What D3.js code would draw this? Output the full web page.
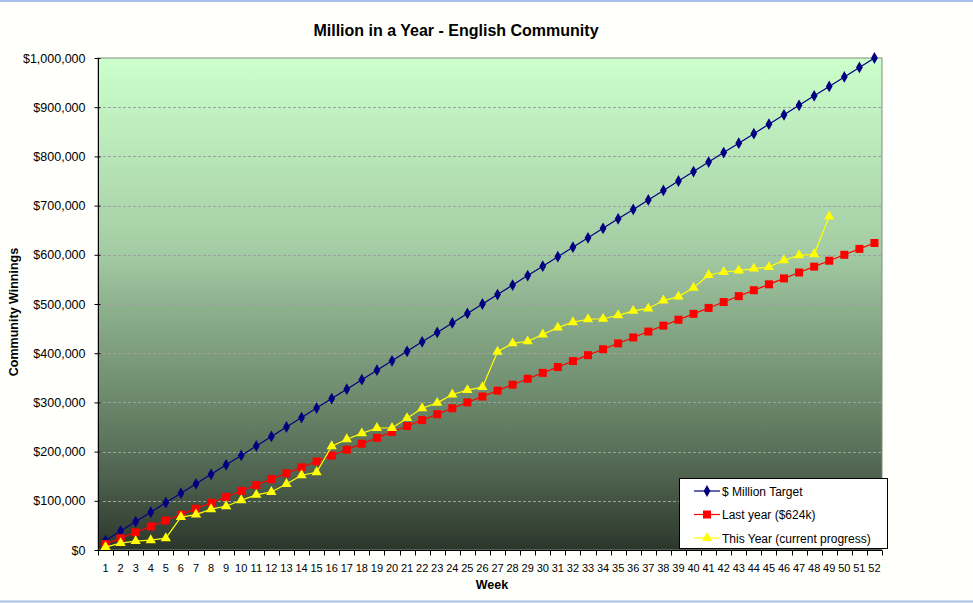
<!DOCTYPE html>
<html><head><meta charset="utf-8">
<script src="https://cdn.jsdelivr.net/npm/d3@7/dist/d3.min.js"></script>
<style>
html,body{margin:0;padding:0;background:#fffffb;}
svg{display:block;font-family:"Liberation Sans",Arial,sans-serif;}
</style></head>
<body>
<svg id="chart" width="973" height="603"></svg>
<script>
const weeks = d3.range(1, 53).map(String);
const targetValues = [19231,38462,57692,76923,96154,115385,134615,153846,173077,192308,211538,230769,250000,269231,288462,307692,326923,346154,365385,384615,403846,423077,442308,461538,480769,500000,519231,538462,557692,576923,596154,615385,634615,653846,673077,692308,711538,730769,750000,769231,788462,807692,826923,846154,865385,884615,903846,923077,942308,961538,980769,1000000];
const lastYearValues = [12000,24000,36000,48000,60000,72000,84000,96000,108000,120000,132000,144000,156000,168000,180000,192000,204000,216000,228000,240000,252000,264000,276000,288000,300000,312000,324000,336000,348000,360000,372000,384000,396000,408000,420000,432000,444000,456000,468000,480000,492000,504000,516000,528000,540000,552000,564000,576000,588000,600000,612000,624000];
const thisYearValues = [6000,14000,18000,20000,24000,67000,72000,83000,89000,101000,112000,118000,134000,152000,158000,211000,225000,237000,248000,248000,268000,288000,299000,316000,325000,331000,403000,420000,424000,438000,452000,463000,469000,470000,477000,486000,491000,507000,515000,533000,559000,565000,568000,572000,575000,589000,599000,601000,678000];
const yTicks = [0,100000,200000,300000,400000,500000,600000,700000,800000,900000,1000000];
const seriesNames = ["$ Million Target","Last year ($624k)","This Year (current progress)"];

const svg = d3.select("#chart");
const L = 98, T = 58, R = 882, B = 550;

// page borders
svg.append("rect").attr("x",0).attr("y",0).attr("width",973).attr("height",603).attr("fill","#fffffb");
svg.append("line").attr("x1",0).attr("x2",973).attr("y1",1).attr("y2",1).attr("stroke","#a8bfe6").attr("stroke-width",2);
svg.append("line").attr("x1",0).attr("x2",973).attr("y1",601.5).attr("y2",601.5).attr("stroke","#a8bfe6").attr("stroke-width",2);

const x = d3.scaleBand().domain(weeks).range([L, R]).padding(0);
const y = d3.scaleLinear().domain([0, 1000000]).range([B, T]);
const cx = w => x(w) + x.bandwidth()/2;

const defs = svg.append("defs");
const grad = defs.append("linearGradient").attr("id","bg").attr("x1",0).attr("x2",0).attr("y1",0).attr("y2",1);
[[0,"#ccffcc"],[0.2,"#b8e6b8"],[0.4,"#a3cba3"],[0.49,"#90b490"],[0.69,"#6d8a6d"],[0.79,"#5a725a"],[0.86,"#4c5f4c"],[1,"#2b362b"]]
  .forEach(([o,c]) => grad.append("stop").attr("offset",o).attr("stop-color",c));

svg.append("rect").attr("x",L).attr("y",T).attr("width",R-L).attr("height",B-T)
  .attr("fill","url(#bg)").attr("stroke","#7f8f7f").attr("stroke-width",1);

// gridlines
svg.append("g").selectAll("line").data(yTicks.filter(d => d>0 && d<1000000)).join("line")
  .attr("x1",L).attr("x2",R).attr("y1",d=>Math.round(y(d))+0.5).attr("y2",d=>Math.round(y(d))+0.5)
  .attr("stroke","#a0a0a0").attr("stroke-dasharray","3,2").attr("stroke-width",1);

// y axis
const yAxis = d3.axisLeft(y).tickValues(yTicks).tickSize(4).tickSizeInner(4).tickPadding(9)
  .tickFormat(d => "$" + d3.format(",")(d));
const ya = svg.append("g").attr("transform",`translate(${L+0.5},0)`).call(yAxis);
ya.select(".domain").attr("stroke","#000").attr("d",`M0,${T}V${B}`);
ya.selectAll(".tick line").attr("stroke","#000").attr("x2",-4).attr("x1",2);
ya.selectAll(".tick text").attr("font-size",12.5).attr("fill","#000").attr("font-family","Liberation Sans, Arial, sans-serif");

// x axis
const xa = svg.append("g").attr("transform",`translate(0,${B+0.5})`);
xa.append("line").attr("x1",L).attr("x2",R).attr("stroke","#000");
const bounds = weeks.map(w => x(w)).concat([R]);
xa.selectAll("line.t").data(bounds).join("line").attr("class","t")
  .attr("x1",d=>Math.round(d)+0.5).attr("x2",d=>Math.round(d)+0.5).attr("y1",0).attr("y2",5).attr("stroke","#000");
xa.selectAll("text").data(weeks).join("text")
  .attr("x",w=>cx(w)).attr("y",21).attr("text-anchor","middle").attr("font-size",11).attr("fill","#000").text(w=>w);

// titles
svg.append("text").attr("x",456).attr("y",36).attr("text-anchor","middle").attr("font-size",16).attr("font-weight","bold").text("Million in a Year - English Community");
svg.append("text").attr("x",492).attr("y",589).attr("text-anchor","middle").attr("font-size",12.5).attr("font-weight","bold").text("Week");
svg.append("text").attr("transform","translate(18,312) rotate(-90)").attr("text-anchor","middle").attr("font-size",12.5).attr("font-weight","bold").text("Community Winnings");

// series
const line = d3.line().x((d,i)=>cx(weeks[i])).y(d=>y(d));
const diamond = d3.symbol().type(d3.symbolDiamond).size(40);
const square = d3.symbol().type(d3.symbolSquare).size(64);
const tri = d3.symbol().type(d3.symbolTriangle).size(46);

function drawSeries(vals, color, sym, stroke){
  const g = svg.append("g");
  g.append("path").datum(vals).attr("d",line).attr("fill","none").attr("stroke",stroke).attr("stroke-width",1.2);
  g.selectAll("path.m").data(vals).join("path").attr("class","m")
    .attr("transform",(d,i)=>`translate(${cx(weeks[i])},${y(d)})`).attr("d",sym).attr("fill",color);
}
drawSeries(targetValues,"#000080",diamond,"#000080");
drawSeries(lastYearValues,"#ff0000",square,"#ff0000");
drawSeries(thisYearValues,"#ffff00",tri,"#ffff00");

// legend
const lg = svg.append("g");
lg.append("rect").attr("x",679.5).attr("y",478.5).attr("width",208).attr("height",70).attr("fill","#fff").attr("stroke","#000");
const lcol = ["#000080","#ff0000","#ffff00"];
const lsym = [diamond,square,tri];
seriesNames.forEach((n,i)=>{
  const yy = 491 + i*23.5;
  lg.append("line").attr("x1",694).attr("x2",720).attr("y1",yy).attr("y2",yy).attr("stroke",lcol[i]).attr("stroke-width",1.2);
  lg.append("path").attr("transform",`translate(707,${yy})`).attr("d",lsym[i]).attr("fill",lcol[i]);
  lg.append("text").attr("x",722).attr("y",yy+4.5).attr("font-size",12).attr("fill","#000").text(n);
});
</script>
</body></html>
